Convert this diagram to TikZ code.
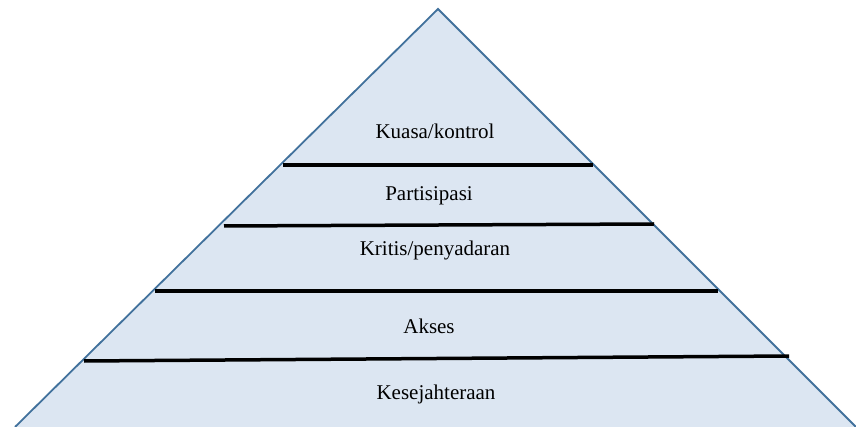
\documentclass[tikz,border=0pt]{standalone}
\usepackage{fontspec}
\setmainfont{Liberation Serif}
\definecolor{layerfill}{HTML}{DCE6F2}
\definecolor{layeredge}{RGB}{65,113,156}
\tikzset{
  layertext/.style={font=\rmfamily\fontsize{21}{25}\selectfont,text=black},
  divider/.style={black,line width=3.5pt}
}
\begin{document}
\begin{tikzpicture}[x=1pt,y=-1pt]
  \useasboundingbox (0,0) rectangle (856,427);
  \clip (0,0) rectangle (856,427);
  \coordinate (apex) at (438,9);
  \coordinate (baseL) at (15,427);
  \coordinate (baseR) at (856,427);
  \fill[layerfill] (baseL) -- (apex) -- (baseR) -- cycle;
  \draw[layeredge,line width=1.8pt] (baseL) -- (apex) -- (baseR);
  \draw[divider] (283,165) -- (593,165);
  \draw[divider] (224,226) -- (654,224);
  \draw[divider] (155,291) -- (718,291);
  \draw[divider] (84,361) -- (789,356);
  \node[layertext] (kuasa) at (435,131) {Kuasa/kontrol};
  \node[layertext] (partisipasi) at (429,196) {Partisipasi};
  \node[layertext] (kritis) at (435,250) {Kritis/penyadaran};
  \node[layertext] (akses) at (429,326) {Akses};
  \node[layertext] (sejahtera) at (436,394) {Kesejahteraan};
\end{tikzpicture}
\end{document}
